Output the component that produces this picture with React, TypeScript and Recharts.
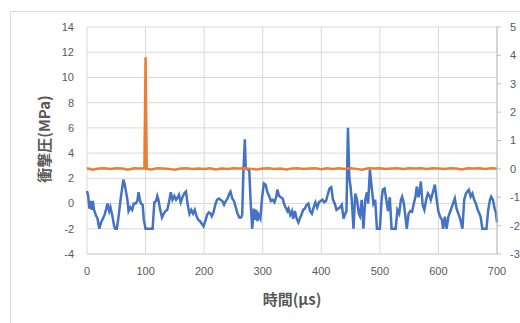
import { LineChart, Line, XAxis, YAxis, CartesianGrid } from 'recharts'

// 時間 (µs) と 衝撃圧 (MPa) — blue series, left axis
const times = [
  0, 2, 4, 6, 8, 10, 12, 15, 18, 21, 24, 27, 30, 33, 35, 38, 40, 43, 46, 48,
  51, 54, 57, 60, 62, 64, 66, 69, 71, 74, 77, 80, 83, 86, 88, 90, 92, 95, 97, 100,
  104, 108, 112, 115, 118, 120, 122, 125, 128, 131, 134, 137, 140, 143, 146, 149, 152, 155, 157, 160,
  163, 166, 169, 172, 175, 178, 181, 184, 187, 190, 193, 196, 199, 202, 205, 208, 211, 213, 216, 219,
  222, 225, 228, 231, 234, 237, 240, 243, 245, 248, 251, 254, 257, 260, 263, 265, 267, 269.5, 271, 274,
  277, 279, 282, 285, 287, 289, 291, 293, 296, 299, 302, 305, 308, 311, 314, 317, 320, 323, 325, 328,
  331, 334, 337, 339, 342, 344, 347, 350, 352, 355, 358, 361, 364, 366, 369, 372, 375, 378, 381, 384,
  387, 390, 393, 396, 399, 402, 405, 408, 411, 414, 417, 420, 423, 426, 429, 432, 435, 438, 441, 443,
  445.5, 448, 450, 452, 455, 458, 461, 464, 466, 469, 472, 475, 478, 480, 483, 486, 489, 492, 495, 500,
  503, 505, 508, 511, 514, 517, 520, 524, 527, 530, 533, 536, 538, 541, 543, 546, 549, 552, 555, 558,
  561, 563, 566, 568, 570, 573, 576, 579, 582, 585, 587, 590, 594, 597, 600, 603, 606, 608, 611, 614,
  617, 620, 623, 625, 628, 631, 634, 637, 639, 641, 644, 647, 650, 652, 655, 658, 661, 664, 667, 670,
  672, 675, 679, 682, 685, 688, 690, 693, 696, 698, 700,
]

const pressure = [
  1.0, 0.6, -0.4, 0.2, -0.5, 0.2, -0.5, -0.9, -1.2, -2.0, -1.5, -1.2, -0.9, -0.4, 0.0, -0.6, -0.3, -0.9, -1.7, -2.0,
  -2.0, -1.0, 0.2, 1.2, 1.9, 1.6, 1.1, 0.3, -0.6, -0.3, -0.5, 0.0, 0.0, 0.2, 0.9, 0.4, 0.0, -0.1, -1.3, -2.0,
  -2.0, -2.0, -2.0, 0.1, 0.2, 0.6, 0.3, -0.5, -1.1, -0.8, -0.6, -0.5, 0.1, 0.9, 0.3, 0.6, 0.3, 0.5, 0.7, 0.1,
  0.5, 0.8, 0.95, -0.1, -0.8, -0.5, -0.8, -0.5, -1.0, -1.3, -1.4, -1.6, -1.8, -1.4, -0.9, -0.7, -0.8, -1.0, -0.7, -0.1,
  0.3, 0.4, 0.3, 0.2, -0.1, 0.2, 0.4, 0.8, 0.95, 0.4, 0.2, -0.3, -0.8, -1.1, -1.1, -0.9, 2.5, 5.1, 2.8, 2.7,
  2.7, 0.5, -2.0, -0.4, -1.3, -0.5, -1.4, -0.9, -1.2, 0.5, 1.6, 1.5, 0.9, 0.6, 0.2, 0.3, 0.1, 0.5, 1.1, 0.6,
  0.5, 0.4, -0.1, -0.3, -0.6, -0.4, -0.9, -0.6, -1.2, -0.6, -1.2, -1.5, -1.1, -0.9, -0.5, -0.4, -0.1, 0.0, -0.6, -0.8,
  -0.3, 0.1, -0.3, 0.1, 0.2, 0.3, 0.1, 0.2, 0.7, 1.2, 1.3, 0.3, 0.0, -0.5, -0.4, -0.3, -0.1, -1.2, -0.8, -0.6,
  6.0, 2.0, 1.3, 0.3, -2.0, 0.8, 0.3, -0.8, -1.0, 0.3, -2.0, 0.3, 0.9, 0.0, 2.7, 1.3, 0.0, 0.3, -2.0, -2.0,
  0.3, 1.1, 1.2, 0.3, -0.6, 0.5, -2.0, -2.0, -2.0, -0.5, -0.8, 0.3, 0.55, 0.0, -0.8, -2.0, -0.8, -0.6, -0.65, 0.0,
  0.6, 1.35, 0.5, 1.0, 1.75, -0.1, -0.5, 0.3, 0.8, 0.6, 0.3, 0.8, 1.5, 0.3, -0.65, -1.05, -1.3, -2.0, -1.05, -2.0,
  -1.05, -0.65, -0.25, 0.0, 0.4, -0.4, -0.8, -1.2, -1.6, -2.0, 0.3, 0.8, 1.0, 1.1, 0.55, 0.8, 0.3, 0.0, -0.5, -0.8,
  -1.05, -2.0, -2.0, -2.0, -0.5, 0.3, 0.55, 0.3, -0.4, -0.7, -1.5,
]

// orange series, right axis
const refTimes = [
  0, 10, 20, 30, 40, 50, 60, 70, 80, 90, 98, 100, 102, 110, 120, 130, 140, 150, 160, 170,
  180, 190, 200, 210, 220, 230, 240, 250, 260, 270, 280, 290, 300, 310, 320, 330, 340, 350, 360, 370,
  380, 390, 400, 410, 420, 430, 440, 450, 460, 470, 480, 490, 500, 510, 520, 530, 540, 550, 560, 570,
  580, 590, 600, 610, 620, 630, 640, 650, 660, 670, 680, 690, 700,
]
const refValues = [
  0.02, -0.03, 0.01, 0.02, 0.0, 0.02, 0.01, -0.03, 0.02, 0.01, 0.02, 3.93, 0.0, -0.02, 0.02, 0.01, 0.0, -0.03, 0.01, 0.02,
  0.0, 0.01, 0.0, 0.02, -0.02, 0.01, 0.0, 0.02, 0.01, 0.02, 0.0, -0.02, 0.01, 0.02, 0.0, 0.01, -0.02, 0.01, 0.02, 0.0,
  0.01, 0.02, -0.01, 0.02, 0.0, 0.02, 0.0, 0.02, 0.0, -0.03, 0.02, 0.01, 0.02, 0.0, 0.01, 0.02, 0.0, 0.02, 0.01, 0.02,
  0.0, 0.02, 0.01, 0.0, 0.02, 0.01, -0.02, 0.02, 0.01, 0.02, 0.0, 0.02, 0.01,
]

const xTicks = [0, 100, 200, 300, 400, 500, 600, 700]
const leftTicks = [-4, -2, 0, 2, 4, 6, 8, 10, 12, 14]
const rightTicks = [-3, -2, -1, 0, 1, 2, 3, 4, 5]

const pressureData = times.map((t, i) => ({ t, p: pressure[i] }))
const refData = refTimes.map((t, i) => ({ t, r: refValues[i] }))

const tickStyle = { fill: '#595959', fontSize: 11, fontFamily: 'Liberation Sans, Arial, sans-serif' }
const titleStyle = {
  position: 'absolute' as const,
  color: '#595959',
  fontSize: 15,
  fontWeight: 700,
  fontFamily: '"Noto Sans CJK JP", "Noto Sans", sans-serif',
  whiteSpace: 'nowrap' as const,
  lineHeight: 1,
}

export default function App() {
  return (
    <div style={{ position: 'absolute', left: 0, top: 0, width: 520, height: 323, overflow: 'hidden', background: '#fff' }}>
      <div style={{ position: 'absolute', left: 10, top: 11, width: 600, height: 400, border: '1px solid #d9d9d9' }} />
      <div style={{ position: 'absolute', left: 0, top: 0 }}>
        <LineChart width={520} height={323} margin={{ top: 27, right: 0, left: 27, bottom: 39 }}>
          <CartesianGrid yAxisId="left" stroke="#d9d9d9" strokeWidth={1} />
          <XAxis
            dataKey="t"
            type="number"
            domain={[0, 700]}
            ticks={xTicks}
            allowDuplicatedCategory={false}
            tick={tickStyle}
            tickLine={false}
            tickSize={6}
            tickMargin={7}
            axisLine={{ stroke: '#d9d9d9' }}
            height={30}
          />
          <YAxis
            yAxisId="left"
            domain={[-4, 14]}
            ticks={leftTicks}
            tick={tickStyle}
            tickLine={false}
            axisLine={false}
            tickSize={6}
            tickMargin={7}
            width={60}
          />
          <YAxis
            yAxisId="right"
            orientation="right"
            domain={[-3, 5]}
            ticks={rightTicks}
            tick={tickStyle}
            tickLine={{ stroke: '#bfbfbf' }}
            axisLine={{ stroke: '#bfbfbf' }}
            tickSize={4}
            tickMargin={9}
            width={23}
          />
          <Line
            yAxisId="left"
            data={pressureData}
            dataKey="p"
            type="linear"
            stroke="#4472C4"
            strokeWidth={2.5}
            dot={false}
            isAnimationActive={false}
          />
          <Line
            yAxisId="right"
            data={refData}
            dataKey="r"
            type="linear"
            stroke="#ED7D31"
            strokeWidth={2.5}
            dot={false}
            isAnimationActive={false}
          />
        </LineChart>
      </div>
      <div style={{ ...titleStyle, left: 43, top: 139, transform: 'translate(-50%, -50%) rotate(-90deg)' }}>衝撃圧(MPa)</div>
      <div style={{ ...titleStyle, left: 292, top: 298, transform: 'translate(-50%, -50%)' }}>時間(μs)</div>
    </div>
  )
}
